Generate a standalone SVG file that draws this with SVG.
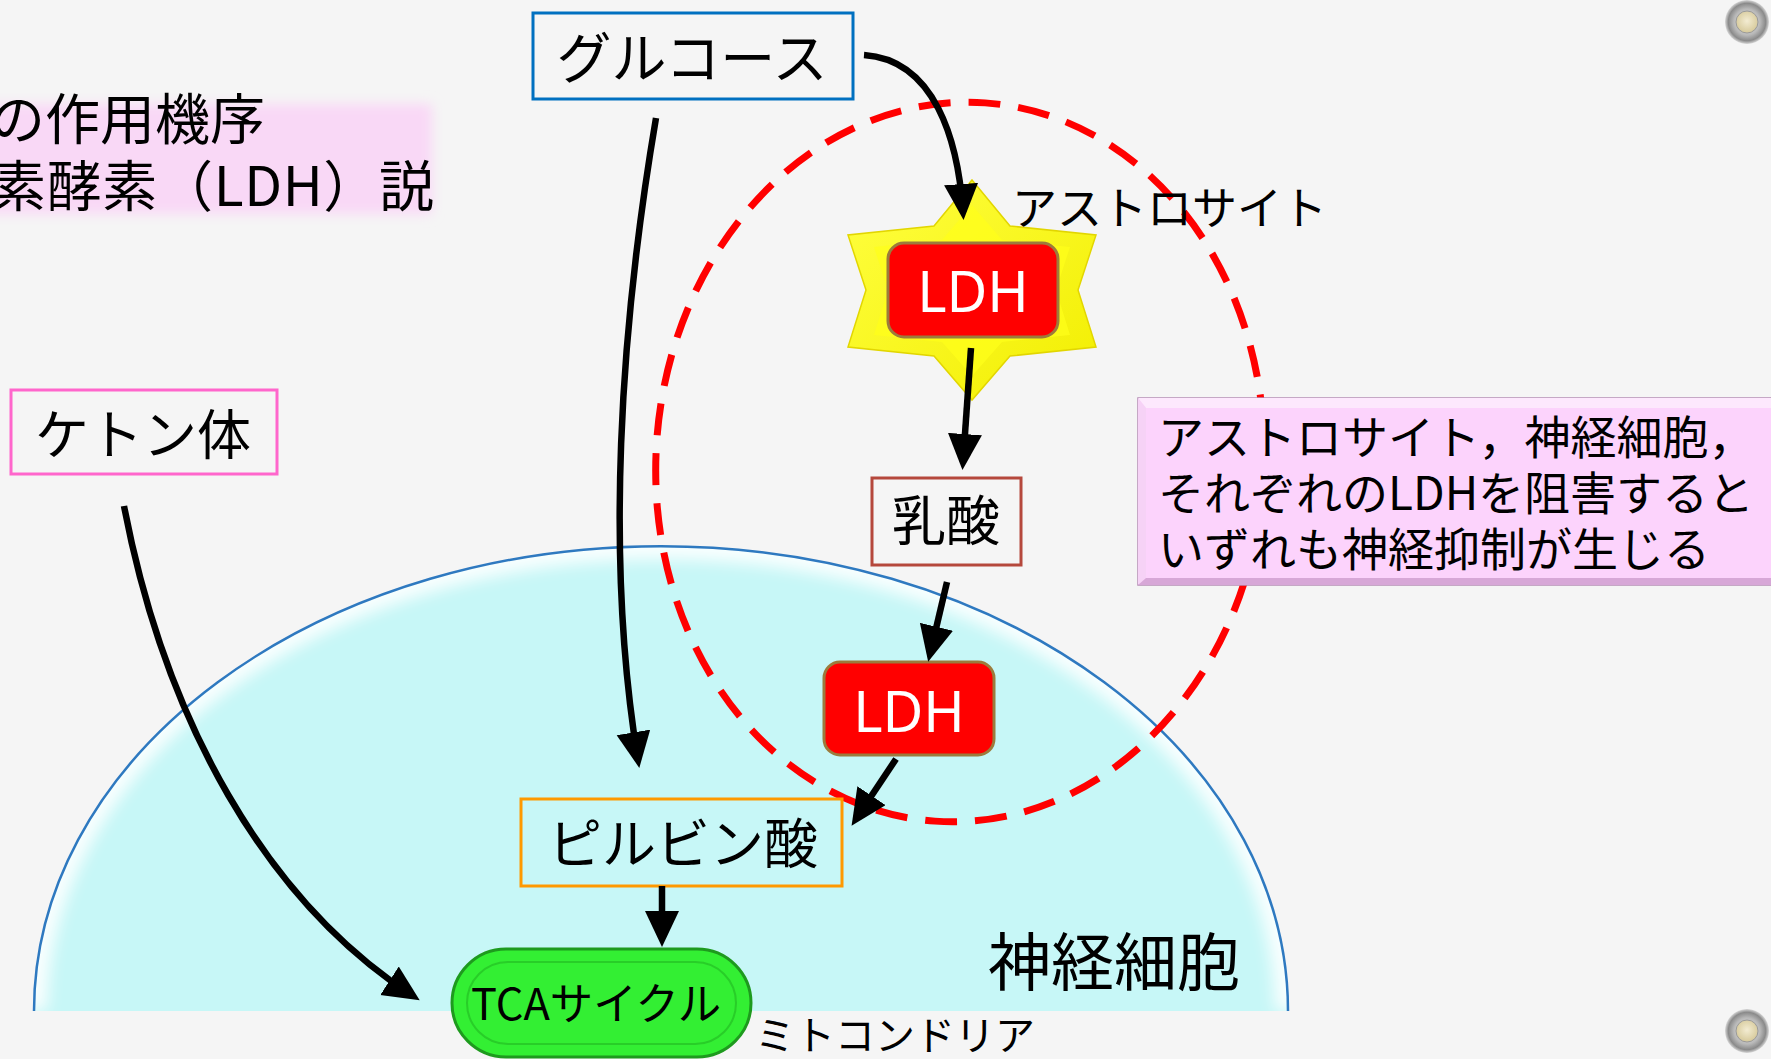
<svg xmlns="http://www.w3.org/2000/svg" width="1771" height="1059" viewBox="0 0 1771 1059">
<defs>
<style>
.jp{font-family:"Noto Sans CJK JP","Noto Sans",sans-serif;fill:#000;}
.box{fill:none;stroke-width:3;}
.ldh{fill:#ff0000;stroke:#9c7b3c;stroke-width:3;}
.ldht{font-family:"Noto Sans","Liberation Sans",sans-serif;fill:#fff;font-size:56px;text-anchor:middle;}
.arr{fill:none;stroke:#000;stroke-width:6.5;marker-end:url(#ah);}
</style>
<marker id="ah" markerUnits="userSpaceOnUse" markerWidth="40" markerHeight="36" refX="28" refY="17" orient="auto">
<path d="M0,0 L36,17 L0,34 Z" fill="#000"/>
</marker>
<filter id="blur8" x="-20%" y="-20%" width="140%" height="140%"><feGaussianBlur stdDeviation="8"/></filter>
<filter id="blur6" x="-20%" y="-20%" width="140%" height="140%"><feGaussianBlur stdDeviation="6"/></filter>
<clipPath id="neuronClip"><path d="M34,1011 A627,465 0 0 1 1288,1011 Z"/></clipPath>
<radialGradient id="screw" cx="50%" cy="50%" r="50%">
<stop offset="0" stop-color="#f0f0f0"/><stop offset="0.6" stop-color="#b8b8b8"/><stop offset="0.85" stop-color="#8a8a8a"/><stop offset="1" stop-color="#d8d8d8"/>
</radialGradient>
<radialGradient id="screwIn" cx="50%" cy="45%" r="55%">
<stop offset="0" stop-color="#f3ecd2"/><stop offset="1" stop-color="#d6c99a"/>
</radialGradient>
<linearGradient id="starG" x1="0" y1="0" x2="1" y2="1">
<stop offset="0" stop-color="#ffff40"/><stop offset="1" stop-color="#f2ee00"/>
</linearGradient>
</defs>

<rect x="0" y="0" width="1771" height="1059" fill="#f5f5f5"/>

<g id="title">
<rect x="-30" y="104" width="462" height="110" fill="#f9d8f6" filter="url(#blur6)"/>
<text class="jp" x="-10" y="139" font-size="55">の作用機序</text>
<text class="jp" x="-9" y="206" font-size="55" textLength="443" lengthAdjust="spacing">素酵素（LDH）説</text>
</g>

<g id="neuron">
<path d="M34,1011 A627,465 0 0 1 1288,1011 Z" fill="#c7f7f7"/>
<g clip-path="url(#neuronClip)">
<path d="M34,1011 A627,465 0 0 1 1288,1011" fill="none" stroke="#ffffff" stroke-width="26" opacity="0.9" filter="url(#blur8)"/>
</g>
<path d="M34,1011 A627,465 0 0 1 1288,1011" fill="none" stroke="#2e79c0" stroke-width="2.5"/>
<text class="jp" x="988" y="985" font-size="63">神経細胞</text>
</g>

<g id="astrocyte-boundary">
<ellipse cx="960" cy="462" rx="304" ry="360" transform="rotate(4 960 462)" fill="none" stroke="#ff0000" stroke-width="7" stroke-dasharray="32 18"/>
</g>

<g id="astrocyte">
<polygon points="972,180 1010,226 1096,235 1078,290 1096,347 1010,356 972,400 934,356 848,347 866,290 848,235 934,226" fill="url(#starG)" stroke="#e2d600" stroke-width="1.5"/>
<polygon points="972,205 1002,240 1070,247 1056,290 1070,335 1002,342 972,376 942,342 874,335 888,290 874,247 942,240" fill="#ffff1a" opacity="0.7"/>
<text class="jp" x="1012" y="225" font-size="45">アストロサイト</text>
</g>

<g id="ldh1">
<rect class="ldh" x="888" y="243" width="170" height="94" rx="16"/>
<text class="ldht" x="973" y="312">LDH</text>
</g>

<g id="glucose">
<rect class="box" x="533" y="13" width="320" height="86" stroke="#0070c0"/>
<text class="jp" x="692" y="78" font-size="55" text-anchor="middle">グルコース</text>
</g>

<g id="lactate">
<rect class="box" x="872" y="478" width="149" height="87" stroke="#b5483c"/>
<text class="jp" x="946" y="541" font-size="54" text-anchor="middle">乳酸</text>
</g>

<g id="ldh2">
<rect class="ldh" x="824" y="662" width="170" height="93" rx="16"/>
<text class="ldht" x="909" y="732">LDH</text>
</g>

<g id="pyruvate">
<rect class="box" x="521" y="799" width="321" height="87" stroke="#ff9900"/>
<text class="jp" x="683" y="864" font-size="54" text-anchor="middle">ピルビン酸</text>
</g>

<g id="ketone">
<rect class="box" x="11" y="390" width="266" height="84" stroke="#ff66cc"/>
<text class="jp" x="143" y="455" font-size="54" text-anchor="middle">ケトン体</text>
</g>

<g id="tca">
<rect x="452" y="949" width="299" height="108" rx="54" fill="#33ef33" stroke="#1e9a1e" stroke-width="3"/>
<rect x="467" y="962" width="269" height="82" rx="41" fill="none" stroke="#22b822" stroke-width="2" opacity="0.6"/>
<text class="jp" x="471" y="1020" font-size="44" textLength="250" lengthAdjust="spacingAndGlyphs">TCAサイクル</text>
<text class="jp" x="755" y="1050" font-size="40">ミトコンドリア</text>
</g>

<g id="note">
<rect x="1138" y="398" width="640" height="187" fill="#fcd3fc" stroke="#b58eb5" stroke-width="1.5"/>
<polygon points="1138,398 1778,398 1778,408 1146,408" fill="#fde8fd"/>
<polygon points="1138,398 1146,408 1146,578 1138,585" fill="#f6d2f6"/>
<polygon points="1138,585 1146,578 1778,578 1778,585" fill="#d7a7d7"/>
<text class="jp" x="1158" y="454" font-size="46">アストロサイト，神経細胞，</text>
<text class="jp" x="1158" y="510" font-size="46">それぞれのLDHを阻害すると</text>
<text class="jp" x="1158" y="566" font-size="46">いずれも神経抑制が生じる</text>
</g>

<g id="connectors">
<path class="arr" d="M864,55 C935,60 958,140 963,212"/>
<path class="arr" d="M656,118 C620,330 605,560 638,760"/>
<path class="arr" d="M971,348 L963,462"/>
<path class="arr" d="M947,582 L930,654"/>
<path class="arr" d="M896,759 L856,819"/>
<path class="arr" d="M662,886 L662,939"/>
<path class="arr" d="M124,506 C165,720 265,900 413,996"/>
</g>

<g id="screws">
<circle cx="1747" cy="22" r="22" fill="url(#screw)"/>
<circle cx="1747" cy="22" r="11" fill="url(#screwIn)" stroke="#9a9a9a" stroke-width="1"/>
<circle cx="1747" cy="1031" r="22" fill="url(#screw)"/>
<circle cx="1747" cy="1031" r="11" fill="url(#screwIn)" stroke="#9a9a9a" stroke-width="1"/>
</g>
</svg>
